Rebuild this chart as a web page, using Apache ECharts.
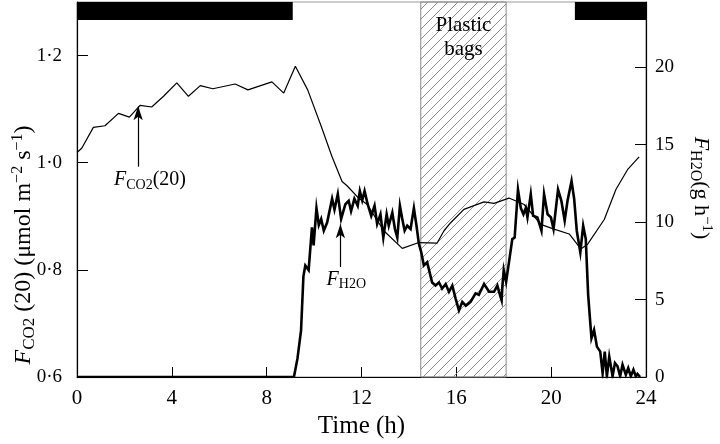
<!DOCTYPE html>
<html><head><meta charset="utf-8">
<script src="https://cdn.jsdelivr.net/npm/echarts@6/dist/echarts.min.js"></script>
<style>html,body{margin:0;padding:0;background:#fff}#c{width:720px;height:444px}</style>
</head><body><div id="c"></div>
<script>
// ---- data ----
const co2Time = [0,0.2,0.69,1.18,1.75,2.21,2.66,3.15,3.65,4.21,4.70,5.20,5.73,6.67,7.21,8.22,8.72,9.21,9.73,10.3,10.75,11.18,11.39,11.88,12.24,12.94,13.72,14.42,15.19,15.48,15.76,16.32,17.17,17.59,18.22,18.86,19.56,20.12,20.76,21.25,21.54,22.24,22.73,23.22,23.71];
const co2Values = [1.019,1.027,1.066,1.069,1.092,1.085,1.107,1.104,1.124,1.149,1.124,1.144,1.138,1.147,1.136,1.151,1.130,1.180,1.136,1.068,1.012,0.965,0.957,0.934,0.922,0.873,0.840,0.851,0.850,0.873,0.888,0.913,0.927,0.924,0.934,0.922,0.885,0.876,0.867,0.839,0.848,0.894,0.950,0.987,1.011];
const h2oTime = [0,9.15,9.3,9.45,9.55,9.63,9.77,9.91,9.98,10.1,10.2,10.3,10.41,10.55,10.76,10.86,11.0,11.14,11.32,11.46,11.56,11.7,11.84,11.93,12.03,12.13,12.26,12.41,12.55,12.66,12.8,12.92,13.06,13.15,13.3,13.41,13.51,13.62,13.72,13.82,13.93,14.07,14.21,14.32,14.42,14.52,14.63,14.77,14.98,15.12,15.27,15.4,15.55,15.69,15.83,15.97,16.11,16.25,16.4,16.6,16.81,16.95,17.17,17.38,17.59,17.73,17.84,17.91,17.94,18.0,18.1,18.22,18.36,18.46,18.6,18.72,18.83,18.93,19.0,19.14,19.24,19.42,19.59,19.7,19.85,19.99,20.1,20.29,20.43,20.57,20.69,20.86,20.97,21.08,21.23,21.35,21.46,21.56,21.7,21.81,21.93,22.07,22.17,22.26,22.35,22.45,22.59,22.69,22.8,22.91,23.01,23.15,23.25,23.36,23.47,23.57,23.64,23.75];
const h2oValues = [0,0,1.2,3.0,6.5,7.2,6.9,9.66,8.5,10.9,9.8,10.2,9.44,9.97,11.5,10.8,11.8,10.2,11.15,11.37,10.7,11.5,11.05,12.0,11.4,12.0,11.15,10.4,11.05,9.87,10.5,9.0,10.5,9.76,10.6,9.55,9.0,11.05,10.2,9.44,9.76,9.55,10.9,9.76,8.6,8.05,7.2,7.4,6.1,5.9,6.1,5.7,6.0,5.5,5.9,5.06,4.3,4.85,4.6,4.85,5.4,5.3,6.0,5.5,5.5,5.9,5.3,4.95,5.8,6.9,6.15,7.4,8.9,9.0,12.1,10.9,10.5,10.9,10.3,11.8,10.4,10.3,9.44,11.8,10.5,10.3,9.55,12.1,11.37,10.1,11.37,12.65,11.5,9.44,8.05,9.76,8.9,5.3,2.5,3.03,1.96,1.64,0.25,1.64,0.05,1.32,0.05,0.9,0.69,0.05,0.79,0.15,0.58,0.05,0.47,0.05,0.2,0];
const xTickLabels = ['0','4','8','12','16','20','24'];
const leftTickLabels = ['0·6','0·8','1·0','1·2'];
const rightTickLabels = ['0','5','10','15','20'];
const darkPeriods = [[0, 9.1], [21.0, 24]];
const bagPeriod = [14.5, 18.1];
const co2Arrow = [[2.58, 0.9925], [2.58, 1.1055]];
const h2oArrow = [[11.11, 7.1], [11.11, 9.85]];
const co2LabelAt = [3.08, 0.9676];
const h2oLabelAt = [11.36, 6.28];

// ---- styles ----
const FONT = 'Liberation Serif';
function hatchCanvas() {
  const s = 10, c = document.createElement('canvas');
  c.width = s; c.height = s;
  const g = c.getContext('2d');
  g.strokeStyle = '#8c8c8c'; g.lineWidth = 1;
  g.beginPath();
  g.moveTo(0, s); g.lineTo(s, 0);
  g.moveTo(-2, 2); g.lineTo(2, -2);
  g.moveTo(s - 2, s + 2); g.lineTo(s + 2, s - 2);
  g.stroke();
  return c;
}
const rich = {
  f: {fontFamily: FONT, fontStyle: 'italic', fontSize: 20, color: '#000'},
  s: {fontFamily: FONT, fontSize: 14, padding: [10, 0, 0, 0], color: '#000'},
  n: {fontFamily: FONT, fontSize: 20, color: '#000'},
  p: {fontFamily: FONT, fontSize: 13, padding: [0, 0, 11, 0], color: '#000'}
};
function scaledRich(k) {
  return {
    f: {fontFamily: FONT, fontStyle: 'italic', fontSize: Math.round(20 * k), color: '#000'},
    s: {fontFamily: FONT, fontSize: Math.round(14 * k), padding: [Math.round(10 * k), 0, 0, 0], color: '#000'},
    n: {fontFamily: FONT, fontSize: Math.round(20 * k), color: '#000'},
    p: {fontFamily: FONT, fontSize: Math.round(13 * k), padding: [0, 0, Math.round(11 * k), 0], color: '#000'}
  };
}

const chart = echarts.init(document.getElementById('c'), null, {renderer: 'canvas'});
const option = {
  animation: false,
  backgroundColor: '#fff',
  grid: {left: 77, right: 74, top: 2, bottom: 65, show: true, borderColor: '#999', borderWidth: 1, backgroundColor: 'transparent'},
  xAxis: {
    type: 'value', min: 0, max: 24, interval: 4,
    axisLine: {lineStyle: {color: '#000', width: 1}},
    axisTick: {inside: true, length: 10, lineStyle: {color: '#000'}},
    splitLine: {show: false},
    axisLabel: {margin: 11, fontFamily: FONT, fontSize: 21, color: '#000',
      formatter: v => xTickLabels[Math.round(v / 4)] ?? ''},
    name: 'Time (h)', nameLocation: 'middle', nameGap: 37,
    nameTextStyle: {fontFamily: FONT, fontSize: 25, color: '#000'}
  },
  yAxis: [{
    type: 'value', min: 0.6, max: 1.3, interval: 0.2, position: 'left',
    axisLine: {show: true, lineStyle: {color: '#000', width: 1.2}},
    axisTick: {show: true, inside: true, length: 11, lineStyle: {color: '#000'}},
    splitLine: {show: false},
    axisLabel: {margin: 15, showMaxLabel: false, fontFamily: FONT, fontSize: 19, color: '#000',
      formatter: v => { const i = Math.round((v - 0.6) / 0.2); return Math.abs(v - (0.6 + 0.2 * i)) < 1e-6 ? (leftTickLabels[i] ?? '') : ''; }}
  }, {
    type: 'value', min: 0, max: 24.2, interval: 5, position: 'right',
    axisLine: {show: true, lineStyle: {color: '#000', width: 1.2}},
    axisTick: {show: true, inside: true, length: 11, lineStyle: {color: '#000'}},
    splitLine: {show: false},
    axisLabel: {margin: 9, showMaxLabel: false, fontFamily: FONT, fontSize: 19, color: '#000',
      formatter: v => (v % 5 === 0 ? (rightTickLabels[v / 5] ?? '') : '')}
  }],
  series: [{
    name: 'FCO2(20)', type: 'line', yAxisIndex: 0, z: 4,
    data: co2Time.map((t, i) => [t, co2Values[i]]),
    showSymbol: false, symbol: 'none',
    lineStyle: {color: '#000', width: 1.2},
    markArea: {silent: true, itemStyle: {color: '#000'},
      data: darkPeriods.map(p => [{xAxis: p[0], yAxis: 1.2666}, {xAxis: p[1], yAxis: 1.3}])},
    markLine: {silent: true, symbol: ['none', 'arrow'], label: {show: false},
      lineStyle: {color: '#000', width: 1.2, type: 'solid'},
      data: [[{coord: co2Arrow[0], symbol: 'none'}, {coord: co2Arrow[1], symbol: 'arrow', symbolSize: [7, 14]}]]}
  }, {
    name: 'FH2O', type: 'line', yAxisIndex: 1, z: 5,
    data: h2oTime.map((t, i) => [t, h2oValues[i]]),
    showSymbol: false, symbol: 'none',
    lineStyle: {color: '#000', width: 2.6, join: 'miter'},
    markArea: {silent: true,
      itemStyle: {color: {image: hatchCanvas(), repeat: 'repeat'}, borderColor: '#888', borderWidth: 1},
      label: {show: true, position: 'insideTop', distance: 12, formatter: 'Plastic\nbags',
        fontFamily: FONT, fontSize: 21, lineHeight: 24, color: '#000'},
      data: [[{xAxis: bagPeriod[0]}, {xAxis: bagPeriod[1]}]]},
    markLine: {silent: true, symbol: ['none', 'arrow'], label: {show: false},
      lineStyle: {color: '#000', width: 1.2, type: 'solid'},
      data: [[{coord: h2oArrow[0], symbol: 'none'}, {coord: h2oArrow[1], symbol: 'arrow', symbolSize: [7, 14]}]]}
  }]
};
chart.setOption(option);

const p1 = chart.convertToPixel({xAxisIndex: 0, yAxisIndex: 0}, co2LabelAt);
const p2 = chart.convertToPixel({xAxisIndex: 0, yAxisIndex: 1}, h2oLabelAt);
chart.setOption({
  graphic: [
    {type: 'text', x: p1[0], y: p1[1], style: {text: '{f|F}{s|CO2}{n|(20)}', rich, align: 'center', verticalAlign: 'middle'}},
    {type: 'text', x: p2[0], y: p2[1], style: {text: '{f|F}{s|H2O}', rich, align: 'center', verticalAlign: 'middle'}},
    {type: 'text', x: 24, y: 245, rotation: Math.PI / 2,
      style: {text: '{f|F}{s|CO2}{n| (20) (μmol m}{p|−2}{n| s}{p|−1}{n|)}', rich: scaledRich(1.2), align: 'center', verticalAlign: 'middle'}},
    {type: 'text', x: 701, y: 188, rotation: -Math.PI / 2,
      style: {text: '{f|F}{s|H2O}{n|(g h}{p|−1}{n|)}', rich: scaledRich(1.12), align: 'center', verticalAlign: 'middle'}}
  ]
});
</script></body></html>
